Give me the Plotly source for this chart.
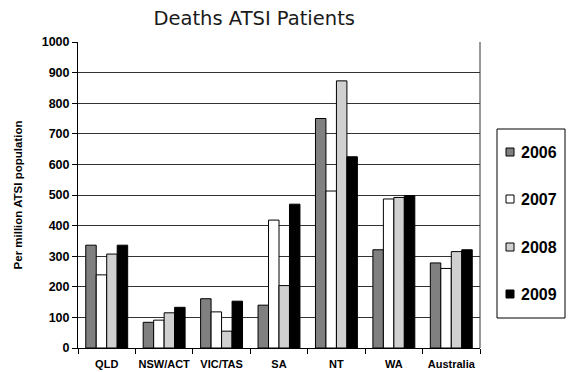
import plotly.graph_objects as go

# Deaths of ATSI patients per million ATSI population, by region and year
regions = ["QLD", "NSW/ACT", "VIC/TAS", "SA", "NT", "WA", "Australia"]
years = ["2006", "2007", "2008", "2009"]
deaths_2006 = [336, 84, 161, 140, 750, 321, 278]
deaths_2007 = [239, 91, 118, 418, 513, 487, 260]
deaths_2008 = [307, 115, 55, 204, 873, 492, 315]
deaths_2009 = [336, 133, 153, 470, 625, 498, 321]
y_ticks = [0, 100, 200, 300, 400, 500, 600, 700, 800, 900, 1000]

series = [deaths_2006, deaths_2007, deaths_2008, deaths_2009]
fills = ["#808080", "#ffffff", "#d0d0d0", "#000000"]

W, H = 570, 372
M = dict(l=78, r=90, t=42, b=24)
plot_w = W - M["l"] - M["r"]
plot_h = H - M["t"] - M["b"]


def px_x(x):
    """Pixel column -> paper x."""
    return (x - M["l"]) / plot_w


def px_y(y):
    """Pixel row (from top) -> paper y."""
    return (H - M["b"] - y) / plot_h


fig = go.Figure()
for yr, vals, col in zip(years, series, fills):
    fig.add_trace(go.Bar(
        x=regions, y=vals, name=yr,
        marker=dict(color=col, line=dict(color="#000000", width=1)),
    ))

fig.update_layout(
    width=W, height=H,
    margin=dict(**M, autoexpand=False),
    paper_bgcolor="white", plot_bgcolor="white",
    barmode="group", bargap=0.27, bargroupgap=0,
    title=dict(text="Deaths ATSI Patients", x=0.446, xanchor="center",
               y=0.952, yanchor="middle",
               font=dict(family="DejaVu Sans", size=19.5, color="#1a1a1a")),
    font=dict(family="Liberation Sans", color="#000000"),
    showlegend=False,
)

fig.update_xaxes(
    showline=True, linecolor="#000000", linewidth=1,
    ticks="outside", tickson="boundaries", ticklen=5, tickcolor="#000000",
    tickfont=dict(size=11, weight="bold"), tickangle=0, ticklabelstandoff=6,
    showgrid=False,
)
fig.update_yaxes(
    range=[0, 1000], tickvals=y_ticks,
    showline=True, linecolor="#000000", linewidth=1,
    ticks="outside", ticklen=5, tickcolor="#000000",
    tickfont=dict(size=12.5, weight="bold"),
    showgrid=True, gridcolor="#333333", gridwidth=1,
    title=dict(text="Per million ATSI population", standoff=16,
               font=dict(size=11.5, weight="bold")),
    zeroline=False,
)

# right-hand frame of the plotting area
fig.add_shape(type="line", xref="paper", yref="paper",
              x0=1, x1=1, y0=0, y1=1, line=dict(color="#333333", width=1))

# legend box with one swatch and label per year
fig.add_shape(type="rect", xref="paper", yref="paper",
              x0=px_x(497), x1=px_x(565), y0=px_y(318), y1=px_y(129),
              line=dict(color="#000000", width=1), fillcolor="white")
row_y = [152, 199, 247, 294]
for yr, col, ry in zip(years, fills, row_y):
    fig.add_shape(type="rect", xref="paper", yref="paper",
                  x0=px_x(506), x1=px_x(514), y0=px_y(ry + 4), y1=px_y(ry - 4),
                  line=dict(color="#000000", width=1), fillcolor=col)
    fig.add_annotation(xref="paper", yref="paper", x=px_x(519), y=px_y(ry),
                       xanchor="left", yanchor="middle", showarrow=False,
                       text=yr, font=dict(size=16, weight="bold", color="#000000"))

fig.write_html("out.html")
